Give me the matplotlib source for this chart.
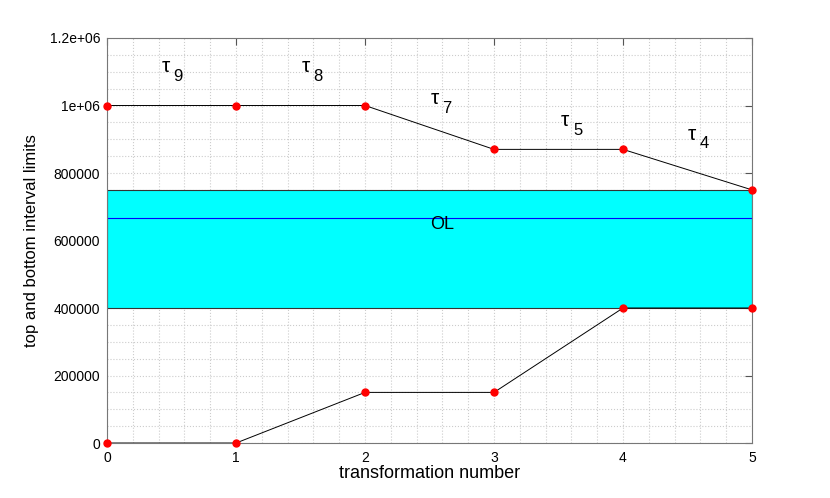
import numpy as np
import matplotlib
matplotlib.use("Agg")
import matplotlib.pyplot as plt
from matplotlib.ticker import MultipleLocator

# ==================== DATA ====================
transformations = [0, 1, 2, 3, 4, 5]
top_limits = [1000000, 1000000, 1000000, 870000, 870000, 750000]
bottom_limits = [0, 0, 150000, 150000, 400000, 400000]
ol_low, ol_high, ol_mid = 400000, 750000, 666667

tau_subs = ['9', '8', '7', '5', '4']
tau_x = [0.42, 1.51, 2.51, 3.52, 4.5]
tau_y = [1115000, 1115000, 1020000, 955000, 915000]

y_ticks = [0, 200000, 400000, 600000, 800000, 1000000, 1200000]
y_ticklabels = ['0', '200000', '400000', '600000', '800000', '1e+06', '1.2e+06']

# ==================== PLOT ====================
plt.rcParams['font.family'] = ['Liberation Sans', 'DejaVu Sans']
fig = plt.figure(figsize=(8.3, 4.98), dpi=100)
ax = fig.add_axes([0.129, 0.1104, 0.777, 0.8133])

ax.fill_between([0, 5], ol_low, ol_high, color='cyan', edgecolor='#333333', lw=0.8, zorder=1)
ax.axhline(ol_mid, color='blue', lw=0.8, zorder=2)
ax.text(2.6, ol_mid - 20000, 'OL', fontsize=13, ha='center', va='center', zorder=3)

ax.plot(transformations, top_limits, color='black', lw=0.7, zorder=3)
ax.plot(transformations, bottom_limits, color='black', lw=0.7, zorder=3)
ax.plot(transformations, top_limits, 'o', color='red', ms=5, zorder=4, clip_on=False)
ax.plot(transformations, bottom_limits, 'o', color='red', ms=5, zorder=4, clip_on=False)

# tau labels: greek letter plus lowered subscript
for sub, x, y in zip(tau_subs, tau_x, tau_y):
    ax.text(x, y, '\u03c4', fontsize=15, ha='left', va='center')
    ax.annotate(sub, (x, y), xytext=(8.5, -7), textcoords='offset points',
                fontsize=12, ha='left', va='center')

ax.set_xlim(0, 5)
ax.set_ylim(0, 1200000)
ax.xaxis.set_major_locator(MultipleLocator(1))
ax.xaxis.set_minor_locator(MultipleLocator(0.2))
ax.set_yticks(y_ticks)
ax.set_yticklabels(y_ticklabels)
ax.yaxis.set_minor_locator(MultipleLocator(50000))
ax.tick_params(which='both', direction='in', top=True, right=True, labelsize=10)
ax.tick_params(which='minor', length=0)
ax.tick_params(which='major', length=5, color='#555555')
ax.tick_params(which='major', left=False, bottom=False)
ax.tick_params(axis='x', pad=6)
ax.tick_params(axis='y', pad=5)
ax.grid(which='both', color='#cccccc', linestyle=':', lw=0.8, zorder=0)
ax.set_axisbelow(True)
for s in ax.spines.values():
    s.set_color('#777777')

ax.set_xlabel('transformation number', fontsize=13, labelpad=0)
ax.set_ylabel('top and bottom interval limits', fontsize=12, labelpad=8)

fig.savefig('out.png', dpi=100)
